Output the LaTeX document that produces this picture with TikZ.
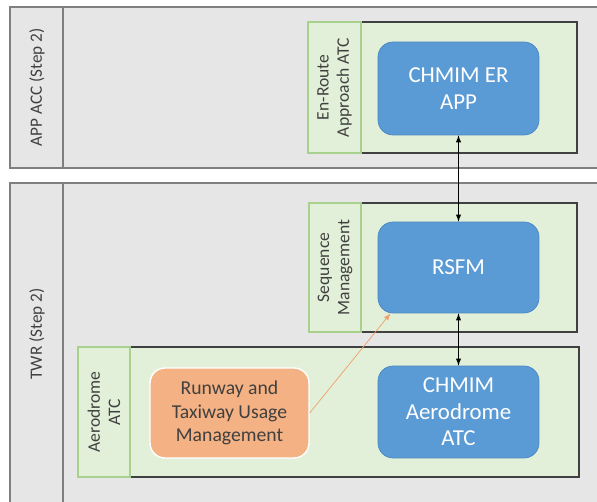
\documentclass[tikz,border=0pt]{standalone}
\usepackage{fontspec}
\setmainfont{Carlito}
\definecolor{lanegray}{HTML}{E7E6E6}
\definecolor{laneline}{HTML}{7F7F7F}
\definecolor{boxgreen}{HTML}{E2F0D9}
\definecolor{linegreen}{HTML}{A9D18E}
\definecolor{fnblue}{HTML}{5B9BD5}
\definecolor{fnblueline}{HTML}{4A86BF}
\definecolor{fnorange}{HTML}{F4B183}
\definecolor{arrorange}{HTML}{F0A06A}
\definecolor{txtgray}{HTML}{404040}
\tikzset{
  lane/.style={draw=laneline,fill=lanegray,line width=1pt},
  group/.style={draw=txtgray,fill=boxgreen,line width=0.8pt},
  strip/.style={draw=linegreen,fill=boxgreen,line width=0.8pt,rotate=90,
    text=txtgray,font=\fontsize{10}{11.5}\selectfont,align=center,inner sep=0pt},
  lanelabel/.style={rotate=90,text=txtgray,font=\fontsize{9.8}{11}\selectfont},
  func/.style={draw=fnblueline,fill=fnblue,rounded corners=0.3cm,text=white,
    font=\fontsize{13}{15}\selectfont,align=center,minimum width=3.22cm,minimum height=1.84cm},
  local/.style={draw=white,line width=0.8pt,fill=fnorange,rounded corners=0.3cm,
    text=txtgray,font=\fontsize{11.2}{13.5}\selectfont,align=center,
    minimum width=3.18cm,minimum height=1.8cm}
}
\begin{document}
\begin{tikzpicture}[x=0.02cm,y=-0.02cm,>=latex]
\useasboundingbox (0,0) rectangle (597,502);
\clip (0,0) rectangle (597,502);
\fill[white] (0,0) rectangle (597,502);

\draw[lane] (10,7) rectangle (620,168);
\draw[laneline,line width=1pt] (63,7) -- (63,168);
\draw[lane] (10,183) rectangle (620,520);
\draw[laneline,line width=1pt] (63,183) -- (63,520);
\node[lanelabel] (appacc) at (37,87.5) {APP ACC (Step 2)};
\node[lanelabel] (twr) at (37,334) {TWR (Step 2)};

\draw[group] (308,22) rectangle (577,153);
\node[strip,minimum width=2.62cm,minimum height=1.06cm] (enroute) at (334.5,87.5)
  {En-Route\\Approach ATC};
\draw[group] (309,203) rectangle (577,332);
\node[strip,minimum width=2.58cm,minimum height=1.04cm] (seqmgmt) at (335,267.5)
  {Sequence\\Management};
\draw[group] (78,347) rectangle (579,477);
\node[strip,minimum width=2.6cm,minimum height=1.04cm] (adatc) at (104,412)
  {Aerodrome\\ATC};

\node[func,minimum height=1.86cm] (chmimer) at (458.5,88.5) {CHMIM ER\\APP};
\node[func,minimum height=1.82cm] (rsfm) at (458.5,267.5) {RSFM};
\node[func] (chmimad) at (458.5,412) {CHMIM\\Aerodrome\\ATC};
\node[local] (rwy) at (229.5,413) {Runway and\\Taxiway Usage\\Management};

\draw[<->,thin] (chmimer.south) -- (rsfm.north);
\draw[<->,thin] (rsfm.south) -- (chmimad.north);
\draw[->,arrorange,thin] (rwy.east) -- (rsfm.214);
\end{tikzpicture}
\end{document}
